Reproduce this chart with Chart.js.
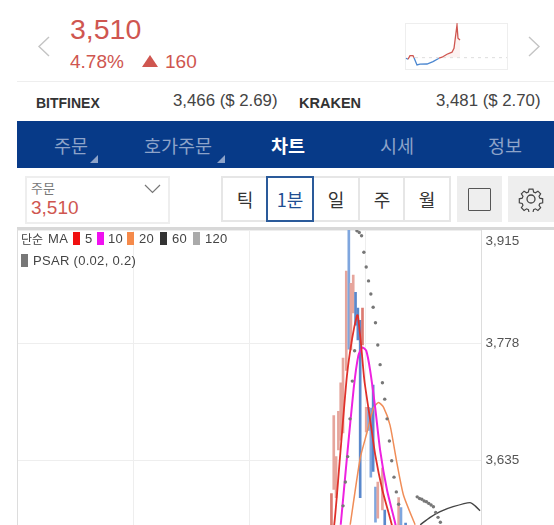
<!DOCTYPE html>
<html>
<head>
<meta charset="utf-8">
<title>차트</title>
<script src="https://cdn.jsdelivr.net/npm/chart.js@4/dist/chart.umd.min.js"></script>
<style>
html,body{margin:0;padding:0;background:#fff;width:554px;height:525px;overflow:hidden;}
body{position:relative;font-family:"Liberation Sans","Noto Sans CJK KR",sans-serif;}
.a{position:absolute;white-space:nowrap;line-height:1;}
.red{color:#cf5650;}
.tab{top:135px;font-size:18.5px;color:#8da3c9;font-family:"Noto Sans CJK KR",sans-serif;line-height:20px;}
.cell{position:absolute;top:0;height:42px;width:44px;background:#fff;border:2px solid #e6e6e6;text-align:center;line-height:42px;font-size:18px;color:#333;font-family:"Noto Sans CJK KR",sans-serif;}
.sw{position:absolute;width:7px;height:13px;}
.lg{position:absolute;font-size:13px;color:#444;line-height:14px;white-space:nowrap;letter-spacing:.3px;}
</style>
</head>
<body>
<svg class="a" style="left:37px;top:36px" width="14" height="21"><polyline points="12,1 2,10.5 12,20" fill="none" stroke="#c4c4c4" stroke-width="1.4"/></svg>
<svg class="a" style="left:527px;top:36px" width="14" height="21"><polyline points="2,1 12,10.5 2,20" fill="none" stroke="#c4c4c4" stroke-width="1.4"/></svg>
<div class="a red" style="left:70px;top:15px;font-size:28.5px">3,510</div>
<div class="a red" style="left:70px;top:52px;font-size:19px">4.78%</div>
<svg class="a" style="left:142px;top:55px" width="16" height="13"><polygon points="8,0 16,12 0,12" fill="#cf5650"/></svg>
<div class="a red" style="left:165px;top:52px;font-size:19px">160</div>
<div class="a" style="left:405px;top:23px;width:101px;height:45px;border:1px solid #eee"></div>
<canvas id="spark" class="a" style="left:405px;top:23px" width="102" height="46"></canvas>
<div class="a" style="left:17px;top:81px;width:537px;height:1px;background:#eee"></div>
<div class="a" style="left:36px;top:96px;font-size:14px;font-weight:bold;color:#333">BITFINEX</div>
<div class="a" style="left:173px;top:93px;font-size:16.8px;color:#444">3,466 ($ 2.69)</div>
<div class="a" style="left:299px;top:96px;font-size:14.5px;font-weight:bold;color:#333">KRAKEN</div>
<div class="a" style="left:436px;top:93px;font-size:16.8px;color:#444">3,481 ($ 2.70)</div>

<div class="a" style="left:17px;top:121px;width:537px;height:47px;background:#073a88"></div>
<div class="a tab" style="left:54px">주문</div>
<div class="a tab" style="left:144px">호가주문</div>
<div class="a tab" style="left:271px;color:#fff;font-weight:bold">차트</div>
<div class="a tab" style="left:380px">시세</div>
<div class="a tab" style="left:488px">정보</div>
<svg class="a" style="left:90px;top:155px" width="8" height="8"><polygon points="8,0 8,8 0,8" fill="#8da3c9"/></svg>
<svg class="a" style="left:217px;top:155px" width="8" height="8"><polygon points="8,0 8,8 0,8" fill="#8da3c9"/></svg>

<div class="a" style="left:25px;top:176px;width:141px;height:44px;border:2px solid #eee"></div>
<div class="a" style="left:31px;top:181px;font-size:13px;color:#777;font-family:'Noto Sans CJK KR',sans-serif">주문</div>
<div class="a red" style="left:31px;top:198px;font-size:19px">3,510</div>
<svg class="a" style="left:144px;top:184px" width="17" height="10"><polyline points="1,1 8.5,8.5 16,1" fill="none" stroke="#777" stroke-width="1.2"/></svg>

<div class="a" style="left:221px;top:176px;width:230px;height:46px">
  <div class="cell" style="left:0">틱</div>
  <div class="cell" style="left:45px;border-color:#2a5a9a;color:#1f4e92;z-index:1">1분</div>
  <div class="cell" style="left:91px">일</div>
  <div class="cell" style="left:137px">주</div>
  <div class="cell" style="left:182px">월</div>
</div>
<div class="a" style="left:457px;top:176px;width:45px;height:46px;background:#eee"></div>
<div class="a" style="left:468px;top:188px;width:21px;height:21px;border:1.5px solid #555;border-radius:1px"></div>
<div class="a" style="left:508px;top:176px;width:46px;height:46px;background:#eee"></div>
<svg class="a" style="left:518px;top:186px" width="26" height="26" viewBox="0 0 26 26"><path d="M10.8 2h4.4l.7 3.2 2 .9 2.8-1.8 3 3-1.8 2.8.9 2 3.2.7v4.4l-3.2.7-.9 2 1.8 2.800-3 3-2.800-1.800-2 .9-.7 3.200h-4.400l-.7-3.200-2-.9-2.800 1.800-3-3 1.800-2.800-.9-2-3.200-.7v-4.400l3.200-.7.9-2-1.800-2.800 3-3 2.800 1.800 2-.9z" transform="translate(1.300 1.300) scale(.9)" fill="none" stroke="#444" stroke-width="1.300"/><circle cx="13" cy="13" r="4" fill="none" stroke="#444" stroke-width="1.300"/></svg>

<canvas id="main" class="a" style="left:0;top:215px" width="554" height="310"></canvas>
<div class="a" style="left:17px;top:227px;width:537px;height:3px;background:#d8d8d8"></div>
<div class="a" style="left:17px;top:229px;width:1px;height:296px;background:#ddd"></div>

<div class="lg" style="left:21px;top:232px;font-family:'Noto Sans CJK KR',sans-serif;font-size:12px;letter-spacing:0">단순</div>
<div class="lg" style="left:48px;top:232px">MA</div>
<div class="sw" style="left:73px;top:232px;background:#f01010"></div><div class="lg" style="left:85px;top:232px">5</div>
<div class="sw" style="left:97px;top:232px;background:#f010f0"></div><div class="lg" style="left:108px;top:232px">10</div>
<div class="sw" style="left:127px;top:232px;background:#f58a4a"></div><div class="lg" style="left:139px;top:232px">20</div>
<div class="sw" style="left:160px;top:232px;background:#333"></div><div class="lg" style="left:172px;top:232px">60</div>
<div class="sw" style="left:193px;top:232px;background:#aaa"></div><div class="lg" style="left:205px;top:232px">120</div>
<div class="sw" style="left:21px;top:254px;background:#777"></div><div class="lg" style="left:33px;top:254px">PSAR (0.02, 0.2)</div>

<script>
// candles: index, body and wick, prices
var candleIdx   = [135,136,137,138,139,140,141.4,142.5,143.4,144.4,145.4,146.4,147.4,148.4,150,151,152,153,154,155,157,158,164,165,167];
var candleLow   = [3550,3600,3590,3648,3660,3669,3745,3771,3770,3815,3800,3782,3590,3776,3670,3672,3615,3622,3560,3565,3575,3550,3550,3550,3551];
var candleHigh  = [3595,3690,3640,3695,3730,3760,3866,3925,3851,3861,3840,3821,3806,3821,3700,3700,3699,3727,3603,3609,3626,3575,3590,3578,3559];
var candleUp    = [1,1,1,1,1,1,1,0,1,1,0,0,0,1,1,0,0,0,0,1,1,0,1,0,0];
var candleThin  = [1,0,0,0,0,0,0,0,0,0,1,1,1,1,0,0,0,1,0,0,0,1,0,0,1];

// moving averages
var ma5Idx  = [134,136.2,138.8,141.7,144,146,146.4,147.8,149.2,151.7,153.9,157,160.3,161.6];
var ma5Val  = [3530,3557,3643,3739,3785,3812,3812,3776,3733,3685,3642,3599,3565,3551];
var ma10Idx = [139,141.8,144.6,146.6,148.3,150,151.7,153.9,156,159,162.5,163.4];
var ma10Val = [3557,3642,3723,3763,3773,3769,3745,3699,3648,3599,3559,3545];
var ma20Idx = [143.1,147.4,150.3,153.1,155.3,157.5,160.3,163.2,166.1,171.1];
var ma20Val = [3557,3638,3669,3699,3706,3700,3678,3633,3593,3557];
var ma60Idx = [173.3,177.6,181.9,187.5,194.8,197,199.1];
var ma60Val = [3557,3566,3573,3579,3584,3580,3574];

// parabolic SAR dots
var psarIdx = [140,141,142,143,144,145,146,147,148,149,150,151,152,153,154,155,156,157,158,159,160,161,162,163,164,172,173,174,175,176,177,178,179,180,181,182];
var psarVal = [3580,3609,3640,3686,3732,3769,3915,3913,3909,3889,3871,3854,3838,3822,3803,3776,3752,3730,3710,3686,3659,3635,3615,3597,3582,3591,3589,3588,3586,3585,3583,3581,3579,3572,3566,3560];

var yTicks  = [3915,3778,3635];
var xGrid   = [49.75,99.75,149.75];

// small day chart in the header
var sparkMin = [1,3,5,8,9,12,15,22,28,34,37,42,47,49,52,53,55];
var sparkVal = [3345,3336,3368,3368,3350,3284,3291,3293,3314,3345,3354,3381,3399,3435,3644,3525,3509];
var prevClose = 3350;

function zip(xs, ys) {
    var out = [];
    for (var i in xs) {
        out.push({x: xs[i], y: ys[i]});
    }
    return out;
}

function maLine(xs, ys, color, width, order) {
    return {
        type: 'line',
        data: zip(xs, ys),
        borderColor: color,
        borderWidth: width,
        tension: 0.2,
        pointRadius: 0,
        order: order
    };
}

var bodies = [];
for (var i in candleIdx) {
    bodies.push({x: candleIdx[i], y: [candleLow[i], candleHigh[i]]});
}

var mainChart = new Chart(document.getElementById('main'), {
    type: 'bar',
    data: {
        datasets: [
            {
                data: bodies,
                grouped: false,
                barThickness: 2,
                backgroundColor: candleUp.map(function(u, i) {
                    if (candleThin[i]) return u ? '#dc7a70' : '#5a88cc';
                    return u ? '#e6a59c' : '#7fa6de';
                }),
                order: 6
            },
            maLine(ma60Idx, ma60Val, '#444444', 1.4, 5),
            maLine(ma20Idx, ma20Val, '#f08d58', 1.5, 4),
            maLine(ma10Idx, ma10Val, '#ee22e0', 2, 3),
            maLine(ma5Idx, ma5Val, '#e0302a', 1.8, 2),
            {
                type: 'line',
                data: zip(psarIdx, psarVal),
                showLine: false,
                pointRadius: 1.7,
                pointBackgroundColor: '#777777',
                pointBorderWidth: 0,
                order: 1
            }
        ]
    },
    options: {
        responsive: false,
        animation: false,
        layout: {autoPadding: false, padding: {left: 18, top: 14.6, right: 0, bottom: 0}},
        plugins: {legend: {display: false}, tooltip: {enabled: false}},
        scales: {
            x: {
                type: 'linear',
                offset: false,
                min: -0.25,
                max: 199.75,
                afterFit: function(axis) { axis.height = 0; },
                afterBuildTicks: function(axis) {
                    axis.ticks = xGrid.map(function(v) { return {value: v}; });
                },
                ticks: {display: false},
                // bar charts shift the grid by half a step unless told not to
                grid: {color: '#eeeeee', drawTicks: false, offset: false},
                border: {display: false}
            },
            y: {
                position: 'right',
                min: 3556.7,
                max: 3916.5,
                afterFit: function(axis) {
                    axis.width = 72.5;
                    // the stacked top label must not shrink the plot
                    axis.paddingTop = 0;
                    axis.paddingBottom = 0;
                },
                afterBuildTicks: function(axis) {
                    axis.ticks = yTicks.map(function(v) { return {value: v}; });
                },
                ticks: {
                    padding: 4,
                    color: '#555555',
                    autoSkip: false,
                    font: {family: '"Liberation Sans"', size: 13.5, lineHeight: 0.8},
                    callback: function(v) {
                        var s = String(v).replace(/(\d)(\d{3})$/, '$1,$2');
                        // top label sits under the frame, not on its line
                        return v == yTicks[0] ? ['', '', s] : s;
                    }
                },
                grid: {color: '#eeeeee', drawTicks: false},
                border: {color: '#dddddd'}
            }
        }
    }
});

var sparkChart = new Chart(document.getElementById('spark'), {
    type: 'line',
    data: {
        datasets: [
            {
                data: zip([10,102], [prevClose,prevClose]),
                borderColor: '#dddddd',
                borderWidth: 1,
                borderDash: [3,4],
                pointRadius: 0
            },
            {
                data: zip(sparkMin, sparkVal),
                borderWidth: 1.3,
                pointRadius: 0,
                fill: {target: {value: prevClose}, above: 'rgba(225,130,120,0.1)', below: 'rgba(0,0,0,0)'},
                segment: {
                    borderColor: function(c) {
                        return c.p1.parsed.y >= prevClose && c.p1.parsed.x > 30 || (c.p0.parsed.x >= 3 && c.p1.parsed.x <= 9) ? '#cf5650' : '#4a86d0';
                    }
                }
            }
        ]
    },
    options: {
        responsive: false,
        animation: false,
        layout: {autoPadding: false},
        plugins: {legend: {display: false}, tooltip: {enabled: false}},
        scales: {
            x: {type: 'linear', display: false, min: 0, max: 102},
            y: {display: false, min: 3248, max: 3662}
        }
    }
});
</script>
</body>
</html>
